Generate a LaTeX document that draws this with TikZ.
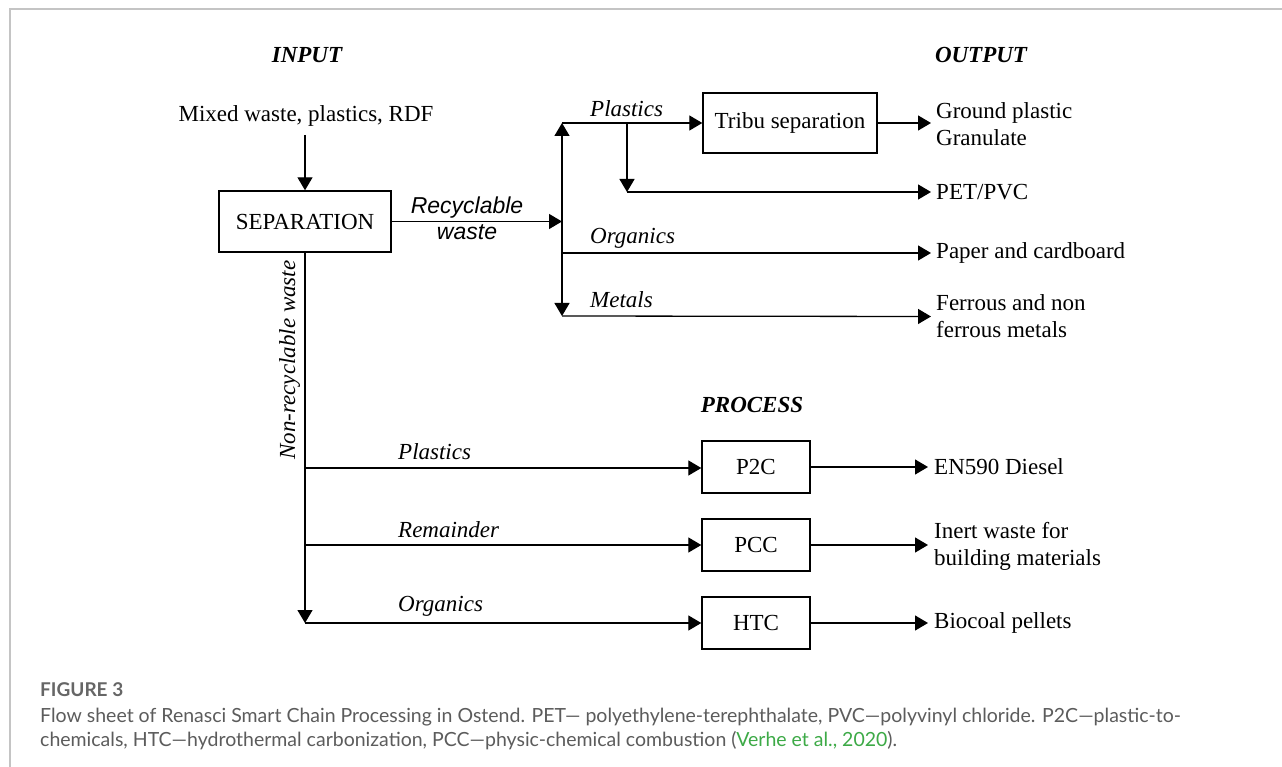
\documentclass[tikz,border=0pt]{standalone}
\usepackage{fontspec}
\setmainfont{Liberation Serif}
\newfontfamily\arialfont{Liberation Sans}
\newfontfamily\capfont{Lato}
\usetikzlibrary{arrows.meta}
\definecolor{framegray}{HTML}{C4C4C4}
\definecolor{capgray}{HTML}{5C5C5C}
\definecolor{figgray}{HTML}{666666}
\definecolor{citegreen}{HTML}{3DAA47}
\begin{document}
\begin{tikzpicture}[x=1pt,y=-1pt,
  font=\fontsize{23}{27}\selectfont,
  box/.style={draw, line width=1.4pt, inner sep=0pt},
  flow/.style={line width=1.3pt, -{Triangle[length=13pt,width=15pt]}},
  flowboth/.style={line width=1.3pt, {Triangle[length=13pt,width=15pt]}-{Triangle[length=13pt,width=15pt]}},
  lbl/.style={font=\fontsize{23}{27}\selectfont\itshape, inner sep=0pt, anchor=base west},
  outtxt/.style={anchor=west, align=left, inner xsep=5pt, inner ysep=0pt},
  ttl/.style={font=\fontsize{23}{27}\selectfont\bfseries\itshape, inner sep=0pt, anchor=base}
]
\useasboundingbox (0,0) rectangle (1282,767);
\fill[white] (0,0) rectangle (1282,767);
% frame
\draw[framegray, line width=2pt] (9.5,767) -- (9.5,9.5) -- (1282,9.5);

% titles
\node[ttl] (tin) at (307,63) {INPUT};
\node[ttl] (tout) at (981,63) {OUTPUT};
\node[ttl] (tproc) at (752,412) {PROCESS};

% input and separation
\node[inner sep=0pt, anchor=base] (in) at (306,122) {Mixed waste, plastics, RDF};
\node[box, minimum width=172pt, minimum height=61pt] (sep) at (305,221.5) {SEPARATION};
\coordinate (inbot) at (305,135);
\draw[flow] (inbot) -- (sep.north);

% recyclable branch
\coordinate (r1) at (562,123);
\coordinate (r2) at (562,221.5);
\coordinate (r3) at (562,253);
\coordinate (r4) at (562,316);
\coordinate (pb) at (627,123);
\coordinate (pc) at (627,192);
\draw[flow] (sep.east) -- (r2);
\node[font=\fontsize{23}{26.5}\selectfont\arialfont\itshape, align=center, inner sep=0pt] (rw) at (467,218.4) {Recyclable\\waste};
\draw[flowboth] (r1) -- (r4);

\node[box, minimum width=174pt, minimum height=60pt] (tribu) at (790,123) {Tribu separation};
\node[outtxt] (ground) at (931,124) {Ground plastic\\Granulate};
\node[outtxt] (pet) at (931,192) {PET/PVC};
\node[outtxt] (paper) at (931,253) {Paper and cardboard};
\node[outtxt] (ferr) at (931,316.5) {Ferrous and non\\ferrous metals};

\draw[flow] (r1) -- (tribu.west);
\draw[flow] (tribu.east) -- (ground.west |- tribu.east);
\draw[flow] (pb) -- (pc);
\draw[flow] (pc) -- (pet.west);
\draw[flow] (r3) -- (paper.west);
\draw[flow] (r4) -- (ferr.west);

\node[lbl] (lpl1) at (590,117) {Plastics};
\node[lbl] (lor1) at (590,244) {Organics};
\node[lbl] (lme1) at (590,308) {Metals};

% non-recyclable branch
\coordinate (l1) at (305,468);
\coordinate (l2) at (305,545);
\coordinate (l3) at (305,623);
\draw[flow] (sep.south) -- (l3);
\node[font=\fontsize{23}{27}\selectfont\itshape, rotate=90, anchor=base, inner sep=0pt] (nrw) at (295,360) {Non-recyclable waste};

\node[box, minimum width=108pt, minimum height=52pt] (p2c) at (756,467) {P2C};
\node[box, minimum width=108pt, minimum height=52pt] (pcc) at (756,545) {PCC};
\node[box, minimum width=108pt, minimum height=52pt] (htc) at (756,623) {HTC};

\draw[flow] (l1) -- (l1 -| p2c.west);
\draw[flow] (l2) -- (l2 -| pcc.west);
\draw[flow] (l3) -- (l3 -| htc.west);

\node[lbl] (lpl2) at (398,459) {Plastics};
\node[lbl] (lre2) at (398,537) {Remainder};
\node[lbl] (lor2) at (398,611) {Organics};

\node[outtxt, inner xsep=6pt] (diesel) at (928,467) {EN590 Diesel};
\node[outtxt, inner xsep=6pt] (inert) at (928,546) {Inert waste for\\building materials};
\node[outtxt, inner xsep=6pt] (bio) at (928,623) {Biocoal pellets};

\draw[flow] (p2c.east) -- (diesel.west |- p2c.east);
\draw[flow] (pcc.east) -- (inert.west |- pcc.east);
\draw[flow] (htc.east) -- (bio.west |- htc.east);

% caption
\node[anchor=west, inner sep=0pt, font=\capfont\bfseries\fontsize{19}{22}\selectfont, text=figgray] (figl) at (40,690) {FIGURE 3};
\node[anchor=north west, align=left, inner sep=0pt, font=\capfont\fontsize{19.5}{24}\selectfont, text=capgray] (cap) at (40,708) {Flow sheet of Renasci Smart Chain Processing in Ostend. PET— polyethylene-terephthalate, PVC—polyvinyl chloride. P2C—plastic-to-\\chemicals, HTC—hydrothermal carbonization, PCC—physic-chemical combustion (\textcolor{citegreen}{Verhe et al., 2020}).};
\end{tikzpicture}
\end{document}
